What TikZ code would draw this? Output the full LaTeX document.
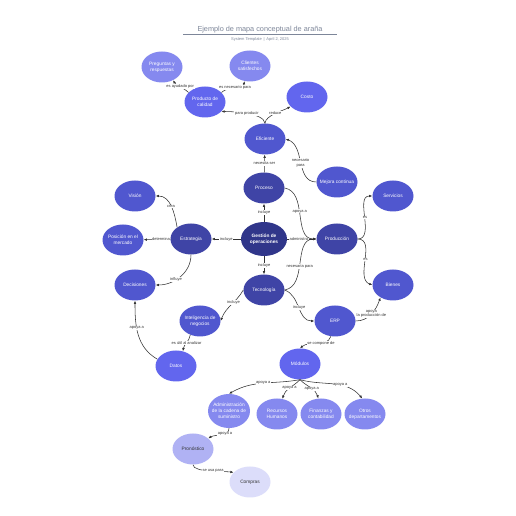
\documentclass[tikz,border=0pt]{standalone}
\usepackage{fontspec}
\setmainfont{Liberation Sans}
\usetikzlibrary{arrows.meta,shapes.geometric}
\definecolor{ink}{HTML}{333333}
\definecolor{titlegray}{HTML}{7D8699}
\definecolor{hubblue}{HTML}{30368A}
\definecolor{deepblue}{HTML}{3F44A6}
\definecolor{midblue}{HTML}{5057CF}
\definecolor{brightblue}{HTML}{6266EE}
\definecolor{softblue}{HTML}{8589EF}
\definecolor{paleblue}{HTML}{B0B2F4}
\definecolor{mistblue}{HTML}{DCDDFA}
\newcommand{\conceptfont}{\fontsize{4.8}{5.8}\selectfont}
\newcommand{\linkfont}{\fontsize{4}{4.6}\selectfont}
\tikzset{
  concept/.style={
    ellipse,
    minimum width=41pt,
    minimum height=31pt,
    inner xsep=-6pt,
    inner ysep=-4pt,
    align=center,
    text=white,
    font=\conceptfont
  },
  hubconcept/.style={concept, fill=hubblue, minimum width=46pt, minimum height=34pt, font=\conceptfont\bfseries},
  tierone/.style={concept, fill=deepblue},
  tiertwo/.style={concept, fill=midblue},
  tierthree/.style={concept, fill=brightblue},
  tierfour/.style={concept, fill=softblue},
  tierfive/.style={concept, fill=paleblue, text=ink},
  tiersix/.style={concept, fill=mistblue, text=ink},
  linkarrow/.style={-{Latex[length=3.2pt,width=2.6pt]}, draw=ink, line width=0.55pt},
  linklabel/.style={font=\linkfont, text=ink, fill=white, inner sep=0.6pt, align=center},
  figtitle/.style={font=\fontsize{7.3}{8}\selectfont, text=titlegray},
  figsub/.style={font=\fontsize{4}{5}\selectfont, text=titlegray}
}
\begin{document}
\begin{tikzpicture}[x=1pt,y=1pt]
  \useasboundingbox (0,0) rectangle (516,516);
  \fill[white] (0,0) rectangle (516,516);

  \node[figtitle] (title) at (260,486) {Ejemplo de mapa conceptual de araña};
  \draw[titlegray, line width=0.6pt] (183,482) -- (337,482);
  \node[figsub] (sub) at (260,477) {System Template \,|\, April 2, 2025};

  % hub and first ring
  \node[hubconcept] (gest) at (264,277) {Gestión de\\operaciones};
  \node[tierone] (proc) at (264,328) {Proceso};
  \node[tierone] (estr) at (191,277) {Estrategia};
  \node[tierone] (prod) at (337,277) {Producción};
  \node[tierone] (tec) at (264,226) {Tecnología};

  % upper branch
  \node[tiertwo] (efi) at (265,377) {Eficiente};
  \node[tiertwo] (mej) at (337,334) {Mejora continua};
  \node[tierthree] (pdc) at (205,414) {Producto de\\calidad};
  \node[tierthree] (cost) at (307,419) {Costo};
  \node[tierfour] (prq) at (162,449) {Preguntas y\\respuestas};
  \node[tierfour] (cli) at (250,450) {Clientes\\satisfechos};

  % left and right branches
  \node[tiertwo] (vis) at (135,320) {Visión};
  \node[tiertwo] (mkt) at (123,276) {Posición en el\\mercado};
  \node[tiertwo] (dec) at (135,231) {Decisiones};
  \node[tiertwo] (serv) at (393,320) {Servicios};
  \node[tiertwo] (bien) at (393,231) {Bienes};

  % lower branch
  \node[tiertwo] (intel) at (200,195) {Inteligencia de\\negocios};
  \node[tiertwo] (erp) at (335,195) {ERP};
  \node[tierthree] (dat) at (176,150) {Datos};
  \node[tierthree] (mod) at (300,152) {Módulos};
  \node[tierfour, minimum width=42pt, minimum height=34pt] (adm) at (229,105) {Administración\\de la cadena de\\suministro};
  \node[tierfour] (rrhh) at (277,102) {Recursos\\Humanos};
  \node[tierfour] (fin) at (321,102) {Finanzas y\\contabilidad};
  \node[tierfour] (otros) at (365,102) {Otros\\departamentos};
  \node[tierfive] (pron) at (193,67) {Pronóstico};
  \node[tiersix] (comp) at (250,34) {Compras};

  % links
  \draw[linkarrow] (gest) -- node[linklabel]{incluye} (proc);
  \draw[linkarrow] (gest) -- node[linklabel]{incluye} (estr);
  \draw[linkarrow] (gest) -- node[linklabel, pos=0.4]{administra} (prod);
  \draw[linkarrow] (gest) -- node[linklabel]{incluye} (tec);

  \draw[linkarrow] (proc) -- node[linklabel]{necesita ser} (efi);
  \draw[linkarrow] (efi.north) to[out=95,in=0,looseness=0.6] node[linklabel, pos=0.5]{para producir} (pdc.-30);
  \draw[linkarrow] (efi.north) to[out=85,in=-150,looseness=0.7] node[linklabel]{reduce} (cost.210);
  \draw[linkarrow] (pdc.150) to[out=135,in=-60] node[linklabel]{es ayudado por} (prq.-50);
  \draw[linkarrow] (pdc.30) to[out=45,in=-100] node[linklabel]{es necesario para} (cli.-110);
  \draw[linkarrow] (mej.west) to[out=180,in=-20] node[linklabel]{necesario\\para} (efi.east);

  \draw[linkarrow] (estr.140) to[out=100,in=0] node[linklabel]{crea} (vis.east);
  \draw[linkarrow] (estr) -- node[linklabel, pos=0.35]{determina} (mkt);
  \draw[linkarrow] (estr.south) to[out=-90,in=0] node[linklabel, pos=0.6]{influye} (dec.east);

  \draw[linkarrow] (proc.east) to[out=-10,in=180] node[linklabel, pos=0.45]{apoya a} (prod.west);
  \draw[linkarrow] (tec.east) to[out=10,in=180] node[linklabel, pos=0.45]{necesaria para} (prod.west);
  \draw[linkarrow] (prod.east) to[out=0,in=180] node[linklabel]{es} (serv.west);
  \draw[linkarrow] (prod.east) to[out=0,in=160] node[linklabel]{es} (bien.west);

  \draw[linkarrow] (tec.west) to[out=-120,in=70] node[linklabel, pos=0.4]{incluye} (intel.east);
  \draw[linkarrow] (tec.east) to[out=-20,in=180] node[linklabel]{incluye} (erp.west);
  \draw[linkarrow] (erp.east) to[out=0,in=-110] node[linklabel]{apoya\\la producción de} (bien.-135);
  \draw[linkarrow] (erp.-105) to[out=-110,in=40] node[linklabel, pos=0.4]{se compone de} (mod.north);
  \draw[linkarrow] (intel.-125) to[out=-100,in=80] node[linklabel]{es útil al analizar} (dat.65);
  \draw[linkarrow] (dat.160) to[out=150,in=-90] node[linklabel, pos=0.6]{apoya a} (dec.south);

  \draw[linkarrow] (mod.south) to[out=190,in=30] node[linklabel]{apoya a} (adm.north);
  \draw[linkarrow] (mod.south) to[out=-135,in=75] node[linklabel]{apoya a} (rrhh.70);
  \draw[linkarrow] (mod.south) to[out=-45,in=105] node[linklabel, pos=0.55]{apoya a} (fin.100);
  \draw[linkarrow] (mod.south) to[out=-15,in=130] node[linklabel, pos=0.6]{apoya a} (otros.100);
  \draw[linkarrow] (adm.south) to[out=-90,in=30] node[linklabel, pos=0.35]{apoya a} (pron.35);
  \draw[linkarrow] (pron.south) to[out=-90,in=170,looseness=0.5] node[linklabel, pos=0.55]{se usa para} (comp.150);
\end{tikzpicture}
\end{document}
